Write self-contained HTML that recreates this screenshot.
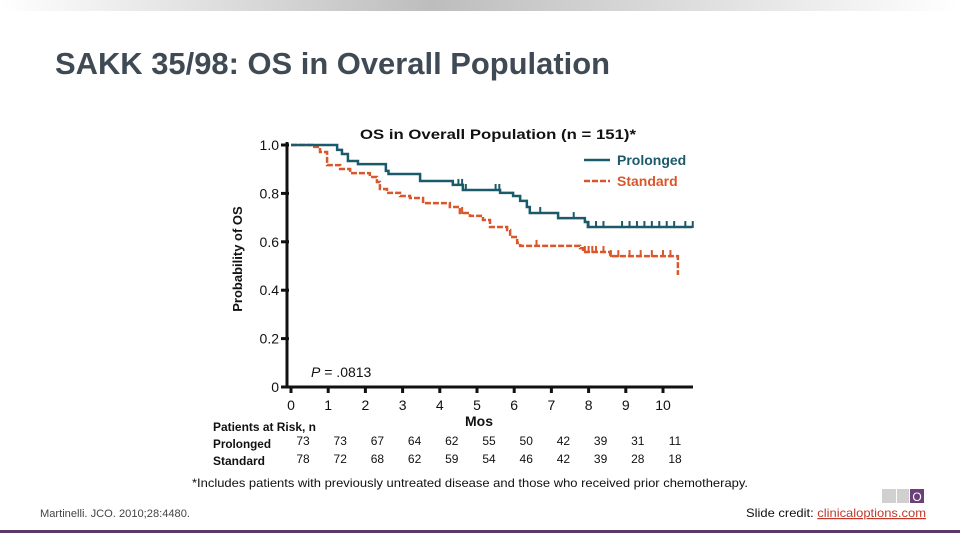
<!DOCTYPE html>
<html><head><meta charset="utf-8"><style>
body{margin:0;width:960px;height:540px;overflow:hidden;background:#fff;font-family:"Liberation Sans",sans-serif}
</style></head><body>
<svg width="960" height="540" xmlns="http://www.w3.org/2000/svg">
<defs><linearGradient id="tg" x1="0" x2="1"><stop offset="0" stop-color="#fff"/><stop offset="0.45" stop-color="#bdbdbd"/><stop offset="1" stop-color="#fff"/></linearGradient></defs>
<rect x="0" y="0" width="960" height="11" fill="url(#tg)"/>
<text x="55" y="74" font-size="31" font-weight="bold" fill="#3f4a55" textLength="555" lengthAdjust="spacingAndGlyphs">SAKK 35/98: OS in Overall Population</text>
<text x="360" y="139" font-size="14" font-weight="bold" fill="#111" textLength="276" lengthAdjust="spacingAndGlyphs">OS in Overall Population (n = 151)*</text>
<g>
<line x1="584" y1="160" x2="610" y2="160" stroke="#1b5a6b" stroke-width="2.5"/>
<text x="617" y="165" font-size="14" font-weight="bold" fill="#1b5a6b">Prolonged</text>
<line x1="584" y1="181" x2="610" y2="181" stroke="#d9572a" stroke-width="2.5" stroke-dasharray="6,2"/>
<text x="617" y="186" font-size="14" font-weight="bold" fill="#d9572a">Standard</text>
</g>
<text transform="translate(242,259) rotate(-90)" text-anchor="middle" font-size="13" font-weight="bold" fill="#111">Probability of OS</text>
<g id="axes"></g>
<g id="plot"></g>
<text x="311" y="377" font-size="14" fill="#111"><tspan font-style="italic">P</tspan> = .0813</text>
<text x="479" y="426" text-anchor="middle" font-size="14" font-weight="bold" fill="#111">Mos</text>
<text x="213" y="431" font-size="12" font-weight="bold" fill="#111" textLength="103" lengthAdjust="spacingAndGlyphs">Patients at Risk, n</text>
<text x="213" y="448" font-size="12" font-weight="bold" fill="#111" textLength="58" lengthAdjust="spacingAndGlyphs">Prolonged</text>
<text x="213" y="465" font-size="12" font-weight="bold" fill="#111" textLength="52" lengthAdjust="spacingAndGlyphs">Standard</text>
<g id="risk"></g>
<text x="192" y="487" font-size="12" fill="#111" textLength="556" lengthAdjust="spacingAndGlyphs">*Includes patients with previously untreated disease and those who received prior chemotherapy.</text>
<text x="40" y="517" font-size="11" fill="#444" textLength="150" lengthAdjust="spacingAndGlyphs">Martinelli. JCO. 2010;28:4480.</text>
<g>
<rect x="882" y="489" width="14" height="14" fill="#d0d0d0"/><rect x="897" y="489" width="12" height="14" fill="#d0d0d0"/><rect x="910" y="489" width="14" height="14" fill="#6b3f7a"/>
<text x="917" y="501" text-anchor="middle" font-size="12" fill="#fff">O</text>
</g>
<text x="746" y="517" font-size="12" fill="#111" textLength="180" lengthAdjust="spacingAndGlyphs">Slide credit: <tspan fill="#c0392b" text-decoration="underline">clinicaloptions.com</tspan></text>
<rect x="0" y="530" width="960" height="3" fill="#5b3a6b"/>
</svg>
<script>
const xTicks=[0,1,2,3,4,5,6,7,8,9,10];
const yTicks=[0,0.2,0.4,0.6,0.8,1.0];
const yTickLabels=["0","0.2","0.4","0.6","0.8","1.0"];
const prolongedTimes=[0,1.24,1.37,1.53,1.80,2.55,2.62,3.47,4.35,4.62,5.62,5.97,6.16,6.34,6.42,7.18,7.90,7.98];
const prolongedSurv=[1.0,0.98,0.963,0.934,0.921,0.893,0.88,0.851,0.835,0.814,0.802,0.789,0.769,0.744,0.719,0.698,0.682,0.661];
const prolongedEnd=10.78;
const prolongedCensor=[4.5,4.6,4.7,5.5,5.6,6.7,7.6,8.0,8.2,8.4,8.9,9.1,9.3,9.5,9.7,9.9,10.1,10.3,10.6,10.8];
const standardTimes=[0,0.56,0.78,0.97,1.32,1.59,2.12,2.31,2.39,2.58,2.93,3.20,3.55,4.27,4.54,4.81,5.16,5.35,5.81,5.89,6.08,6.16,7.77,7.85,8.58,10.40];
const standardSurv=[1.0,0.992,0.971,0.917,0.901,0.884,0.868,0.847,0.818,0.802,0.789,0.781,0.760,0.744,0.719,0.707,0.690,0.661,0.649,0.620,0.595,0.583,0.574,0.558,0.541,0.463];
const standardEnd=10.40;
const standardCensor=[4.6,6.6,7.9,8.0,8.1,8.2,8.4,8.6,8.8,9.1,9.4,9.7,10.0,10.2];
const riskProlonged=[73,73,67,64,62,55,50,42,39,31,11];
const riskStandard=[78,72,68,62,59,54,46,42,39,28,18];

const NS="http://www.w3.org/2000/svg";
const X=t=>291+t*37.2, Y=v=>387-v*242;
function mk(tag,attrs,parent){const e=document.createElementNS(NS,tag);for(const k in attrs)e.setAttribute(k,attrs[k]);parent.appendChild(e);return e;}
const axes=document.getElementById('axes'),plot=document.getElementById('plot'),risk=document.getElementById('risk');
let a=mk('line',{x1:287,y1:142,x2:287,y2:388,stroke:'#111','stroke-width':3},axes);


a=mk('line',{x1:286,y1:387,x2:693,y2:387,stroke:'#111','stroke-width':3},axes);


yTicks.forEach((v,i)=>{
  const l=mk('line',{x1:281,y1:Y(v),x2:289,y2:Y(v),stroke:'#111','stroke-width':3},axes);
  
  
  const t=mk('text',{x:279,y:Y(v)+5,'text-anchor':'end','font-size':14,fill:'#111'},axes);
  t.textContent=yTickLabels[i];
  
  
});
xTicks.forEach(v=>{
  const l=mk('line',{x1:X(v),y1:386,x2:X(v),y2:393,stroke:'#111','stroke-width':3},axes);
  
  
  const t=mk('text',{x:X(v),y:410,'text-anchor':'middle','font-size':14,fill:'#111'},axes);
  t.textContent=v;
  
  
});
function stepPath(ts,ss,end){let d='M'+X(ts[0])+','+Y(ss[0]);for(let i=1;i<ts.length;i++){d+=' H'+X(ts[i])+' V'+Y(ss[i]);}d+=' H'+X(end);return d;}
function survAt(ts,ss,t){let s=ss[0];for(let i=0;i<ts.length;i++)if(ts[i]<=t)s=ss[i];return s;}
const sp=mk('path',{d:stepPath(standardTimes,standardSurv,standardEnd),fill:'none',stroke:'#d9572a','stroke-width':2.5,'stroke-dasharray':'6,2'},plot);


const pp=mk('path',{d:stepPath(prolongedTimes,prolongedSurv,prolongedEnd),fill:'none',stroke:'#1b5a6b','stroke-width':2.5},plot);


standardCensor.forEach(t=>{const y=Y(survAt(standardTimes,standardSurv,t));
  const c=mk('line',{x1:X(t),y1:y-6,x2:X(t),y2:y+1,stroke:'#d9572a','stroke-width':2},plot);
  
  });
prolongedCensor.forEach(t=>{const y=Y(survAt(prolongedTimes,prolongedSurv,t));
  const c=mk('line',{x1:X(t),y1:y-6,x2:X(t),y2:y+1,stroke:'#1b5a6b','stroke-width':2},plot);
  
  });
xTicks.forEach((v,i)=>{
  let t=mk('text',{x:X(v)+12,y:445,'text-anchor':'middle','font-size':12,fill:'#111'},risk);
  t.textContent=riskProlonged[i];
  
  
  t=mk('text',{x:X(v)+12,y:463,'text-anchor':'middle','font-size':12,fill:'#111'},risk);
  t.textContent=riskStandard[i];
  
  
});
</script>
</body></html>
